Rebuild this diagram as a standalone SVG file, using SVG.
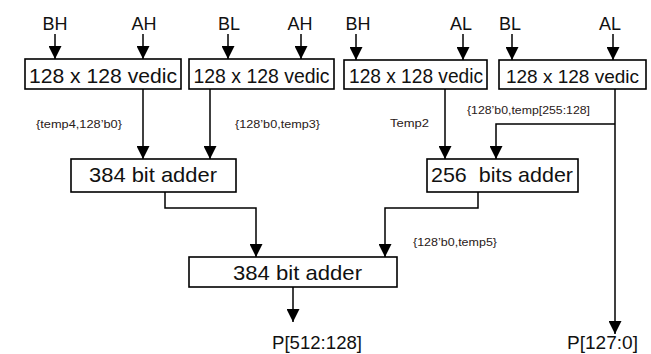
<svg xmlns="http://www.w3.org/2000/svg" width="651" height="354" viewBox="0 0 651 354">
<style>
.box{fill:#fff;stroke:#000;stroke-width:1.6}
.t{font-family:"Liberation Sans",Arial,sans-serif;fill:#111}
.big{font-size:21px;text-anchor:middle}
.in{font-size:18px;text-anchor:middle}
.sm{font-size:10px;fill:#2a2018}
.ln{fill:none;stroke:#000;stroke-width:1.5}
</style>
<defs>
<marker id="ah" viewBox="0 0 13 13" refX="13" refY="6.5" markerWidth="13" markerHeight="13" markerUnits="userSpaceOnUse" orient="auto">
<path d="M0,0 L13,6.5 L0,13 z" fill="#000"/>
</marker>
</defs>
<rect width="651" height="354" fill="#fff"/>

<g id="inputs">
<text class="t in" x="55" y="30">BH</text>
<text class="t in" x="144" y="30">AH</text>
<text class="t in" x="229" y="30">BL</text>
<text class="t in" x="300" y="30">AH</text>
<text class="t in" x="358" y="30">BH</text>
<text class="t in" x="461" y="30">AL</text>
<text class="t in" x="510" y="30">BL</text>
<text class="t in" x="610" y="30">AL</text>
</g>

<g id="vedic1"><rect class="box" x="25" y="59" width="156" height="30"/><text class="t big" x="103" y="83" textLength="148" lengthAdjust="spacingAndGlyphs">128 x 128 vedic</text></g>
<g id="vedic2"><rect class="box" x="189" y="59" width="145" height="30"/><text class="t big" x="261.5" y="83" textLength="136" lengthAdjust="spacingAndGlyphs">128 x 128 vedic</text></g>
<g id="vedic3"><rect class="box" x="344" y="60" width="143" height="29"/><text class="t big" x="416" y="83" textLength="134" lengthAdjust="spacingAndGlyphs">128 x 128 vedic</text></g>
<g id="vedic4"><rect class="box" x="499" y="60" width="147" height="29"/><text class="t" x="572.5" y="83" font-size="19" text-anchor="middle">128 x 128 vedic</text></g>

<g id="adder384a"><rect class="box" x="71" y="159" width="165" height="33"/><text class="t big" x="153" y="182" textLength="128" lengthAdjust="spacingAndGlyphs">384 bit adder</text></g>
<g id="adder256"><rect class="box" x="427" y="159" width="151" height="33"/><text class="t big" x="502" y="182" textLength="142" lengthAdjust="spacingAndGlyphs" xml:space="preserve">256  bits adder</text></g>
<g id="adder384b"><rect class="box" x="189" y="257" width="208" height="30"/><text class="t big" x="297.5" y="280" textLength="129" lengthAdjust="spacingAndGlyphs">384 bit adder</text></g>

<g id="outputs">
<text class="t" x="272" y="349" font-size="18" textLength="90" lengthAdjust="spacingAndGlyphs">P[512:128]</text>
<text class="t" x="567" y="349" font-size="18" textLength="71" lengthAdjust="spacingAndGlyphs">P[127:0]</text>
</g>

<g id="labels">
<text class="t sm" x="36" y="128" textLength="86" lengthAdjust="spacingAndGlyphs">{temp4,128’b0}</text>
<text class="t sm" x="235" y="128" textLength="85" lengthAdjust="spacingAndGlyphs">{128’b0,temp3}</text>
<text class="t sm" x="390" y="127" textLength="39" lengthAdjust="spacingAndGlyphs">Temp2</text>
<text class="t sm" x="467" y="114" textLength="123" lengthAdjust="spacingAndGlyphs">{128’b0,temp[255:128]</text>
<text class="t sm" x="413" y="246" textLength="84" lengthAdjust="spacingAndGlyphs">{128’b0,temp5}</text>
</g>

<g id="connectors" class="ln">
<line x1="55" y1="34" x2="55" y2="59" marker-end="url(#ah)"/>
<line x1="143" y1="34" x2="143" y2="59" marker-end="url(#ah)"/>
<line x1="228" y1="34" x2="228" y2="59" marker-end="url(#ah)"/>
<line x1="301" y1="34" x2="301" y2="59" marker-end="url(#ah)"/>
<line x1="356" y1="34" x2="356" y2="60" marker-end="url(#ah)"/>
<line x1="463" y1="34" x2="463" y2="60" marker-end="url(#ah)"/>
<line x1="512" y1="34" x2="512" y2="60" marker-end="url(#ah)"/>
<line x1="613" y1="34" x2="613" y2="60" marker-end="url(#ah)"/>
<line x1="143" y1="89" x2="143" y2="159" marker-end="url(#ah)"/>
<line x1="210" y1="89" x2="210" y2="159" marker-end="url(#ah)"/>
<line x1="445" y1="89" x2="445" y2="159" marker-end="url(#ah)"/>
<line x1="615" y1="89" x2="615" y2="334" marker-end="url(#ah)"/>
<polyline points="615,124 496,124 496,159" marker-end="url(#ah)"/>
<polyline points="165,192 165,208 256,208 256,257" marker-end="url(#ah)"/>
<polyline points="478,192 478,208 385,208 385,257" marker-end="url(#ah)"/>
<line x1="293" y1="287" x2="293" y2="322" marker-end="url(#ah)"/>
</g>
</svg>
